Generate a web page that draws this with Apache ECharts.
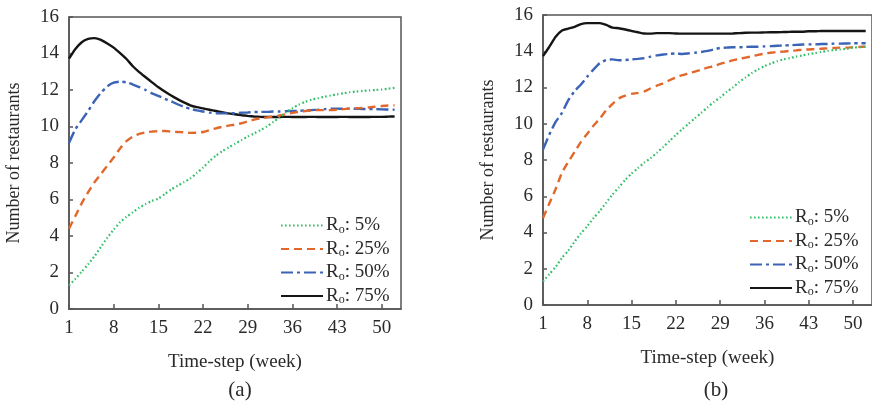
<!DOCTYPE html>
<html><head><meta charset="utf-8">
<script src="https://cdn.jsdelivr.net/npm/echarts@6/dist/echarts.min.js"></script>
<style>html,body{margin:0;padding:0;background:#fff;overflow:hidden}#c{width:872px;height:403px}</style>
</head><body><div id="c"></div>
<script>
var weeks = [1,2,3,4,5,6,7,8,9,10,11,12,13,14,15,16,17,18,19,20,21,22,23,24,25,26,27,28,29,30,31,32,33,34,35,36,37,38,39,40,41,42,43,44,45,46,47,48,49,50,51,52,53];
var seriesNames = ['5%','25%','50%','75%'];
var panelLabels = ['(a)','(b)'];
var yTicks = [0,2,4,6,8,10,12,14,16];

var greenA = [1.30,1.65,2.05,2.45,2.90,3.40,3.90,4.35,4.75,5.05,5.30,5.55,5.75,5.92,6.05,6.30,6.55,6.75,6.95,7.15,7.45,7.75,8.10,8.40,8.65,8.85,9.05,9.25,9.45,9.62,9.80,10.00,10.25,10.50,10.78,11.00,11.20,11.35,11.47,11.55,11.63,11.70,11.76,11.82,11.88,11.92,11.95,11.98,12.00,12.03,12.07,12.12];
var orangeA = [4.40,5.10,5.80,6.40,6.95,7.40,7.85,8.30,8.80,9.20,9.45,9.60,9.68,9.72,9.75,9.75,9.72,9.70,9.68,9.65,9.66,9.70,9.80,9.90,9.98,10.05,10.10,10.18,10.28,10.38,10.45,10.50,10.55,10.60,10.68,10.75,10.80,10.85,10.88,10.90,10.90,10.90,10.92,10.95,10.98,11.00,11.02,11.05,11.08,11.12,11.15,11.16];
var blueA = [9.10,9.85,10.35,10.85,11.40,11.85,12.20,12.40,12.46,12.42,12.30,12.16,12.00,11.82,11.68,11.52,11.38,11.22,11.08,10.97,10.88,10.82,10.76,10.73,10.72,10.72,10.73,10.75,10.77,10.79,10.80,10.80,10.82,10.82,10.84,10.85,10.86,10.88,10.90,10.92,10.95,10.97,10.98,10.97,10.98,10.97,10.96,10.95,10.95,10.94,10.93,10.92];
var blackA = [13.72,14.25,14.62,14.80,14.84,14.75,14.55,14.32,14.02,13.70,13.30,12.98,12.70,12.42,12.15,11.92,11.70,11.50,11.32,11.16,11.06,10.99,10.92,10.85,10.78,10.72,10.67,10.62,10.58,10.55,10.53,10.52,10.52,10.52,10.53,10.52,10.52,10.52,10.53,10.52,10.52,10.52,10.52,10.53,10.52,10.52,10.52,10.52,10.53,10.53,10.54,10.55];

var greenB = [1.30,1.70,2.10,2.60,3.00,3.50,3.95,4.35,4.80,5.20,5.65,6.10,6.50,6.90,7.25,7.55,7.85,8.10,8.40,8.72,9.05,9.38,9.70,10.00,10.30,10.60,10.90,11.20,11.45,11.75,12.00,12.30,12.55,12.80,13.00,13.18,13.32,13.45,13.55,13.62,13.70,13.77,13.84,13.90,13.96,14.02,14.07,14.10,14.14,14.20,14.22,14.25];
var orangeB = [4.80,5.60,6.40,7.30,7.90,8.45,9.00,9.45,9.90,10.30,10.75,11.10,11.40,11.55,11.65,11.70,11.78,11.95,12.10,12.23,12.40,12.55,12.68,12.78,12.88,12.98,13.10,13.18,13.30,13.40,13.50,13.58,13.65,13.72,13.80,13.87,13.92,13.96,13.98,14.02,14.05,14.08,14.10,14.12,14.14,14.16,14.18,14.20,14.20,14.22,14.24,14.25];
var blueB = [8.58,9.40,10.10,10.60,11.30,11.80,12.17,12.60,13.00,13.35,13.52,13.55,13.50,13.52,13.55,13.58,13.62,13.70,13.77,13.82,13.85,13.88,13.85,13.88,13.92,13.96,14.02,14.10,14.18,14.20,14.22,14.22,14.24,14.25,14.25,14.27,14.28,14.30,14.32,14.33,14.35,14.37,14.38,14.38,14.40,14.40,14.42,14.42,14.43,14.44,14.44,14.44];
var blackB = [13.73,14.25,14.80,15.15,15.25,15.35,15.50,15.55,15.55,15.55,15.45,15.30,15.27,15.20,15.12,15.05,14.98,14.97,15.00,15.00,15.00,14.98,14.97,14.97,14.97,14.97,14.97,14.97,14.97,14.97,14.98,15.00,15.02,15.03,15.03,15.04,15.05,15.05,15.06,15.07,15.08,15.08,15.10,15.10,15.12,15.12,15.12,15.12,15.12,15.12,15.12,15.12];

var FONT = 'Liberation Serif';
var TXT = '#2a2a2a';
var styles = [
  {color:'#34c06a', width:2.2, type:[1.6,2.4]},
  {color:'#e2672b', width:2.4, type:[8,5]},
  {color:'#3b63b6', width:2.4, type:[12,4,3,4]},
  {color:'#151515', width:2.4, type:'solid'}
];
var panels = [[greenA,orangeA,blueA,blackA],[greenB,orangeB,blueB,blackB]];

var grids = [
  {left:69, right:471, top:17, bottom:94, show:true, borderColor:'#555', borderWidth:1.5},
  {left:543, right:-4, top:15, bottom:98, show:true, borderColor:'#555', borderWidth:1.5}
];
var xAxes = [], yAxes = [], series = [], legends = [], titles = [];
for (var p = 0; p < 2; p++) {
  xAxes.push({
    type:'category', gridIndex:p, data:weeks, boundaryGap:false,
    name:'Time-step (week)', nameLocation:'middle', nameGap:44,
    nameTextStyle:{fontFamily:FONT, fontSize:19, color:TXT},
    axisLine:{lineStyle:{color:'#555', width:1.5}},
    axisTick:{inside:true, length:5, interval:6, lineStyle:{color:'#555', width:1.5}},
    axisLabel:{interval:6, margin:10, fontFamily:FONT, fontSize:19, color:TXT},
    splitLine:{show:false}
  });
  yAxes.push({
    type:'value', gridIndex:p, min:0, max:16, interval:2,
    name:'Number of restaurants', nameLocation:'middle', nameGap:46, nameRotate:90,
    nameTextStyle:{fontFamily:FONT, fontSize:18, color:TXT},
    axisLine:{show:true, lineStyle:{color:'#555', width:1.5}},
    axisTick:{show:true, inside:true, length:4, lineStyle:{color:'#555', width:1.5}},
    axisLabel:{margin:10, fontFamily:FONT, fontSize:19, color:TXT},
    splitLine:{show:false}
  });
  for (var s = 0; s < 4; s++) {
    series.push({
      type:'line', name:seriesNames[s], xAxisIndex:p, yAxisIndex:p,
      data:panels[p][s], symbol:'none', showSymbol:false, smooth:0.2, silent:true,
      lineStyle:{color:styles[s].color, width:styles[s].width, type:styles[s].type},
      itemStyle:{color:styles[s].color},
      z: 2 + (3 - s)
    });
  }
  legends.push({
    data:seriesNames, orient:'vertical',
    left: p === 0 ? 275 : 744, top: p === 0 ? 211 : 203,
    itemWidth:42, itemHeight:12, itemGap:4,
    selectedMode:false,
    itemStyle:{opacity:0},
    formatter:function(n){ return '{r|R}{s|o}{r|: ' + n + '}'; },
    textStyle:{
      fontFamily:FONT, fontSize:19, color:TXT, padding:[0,0,0,-2],
      rich:{
        r:{fontFamily:FONT, fontSize:19, color:TXT, lineHeight:20},
        s:{fontFamily:FONT, fontSize:12, color:TXT, lineHeight:20, verticalAlign:'bottom', padding:[4,0,0,0]}
      }
    }
  });
  titles.push({
    text:panelLabels[p], left: p === 0 ? 235 : 711, top:375, textAlign:'center',
    textStyle:{fontFamily:FONT, fontSize:21, fontWeight:'normal', color:TXT}
  });
}

var chart = echarts.init(document.getElementById('c'), null, {renderer:'canvas'});
chart.setOption({
  animation:false,
  backgroundColor:'#fff',
  title:titles,
  grid:grids,
  xAxis:xAxes,
  yAxis:yAxes,
  legend:legends,
  series:series
});
</script>
</body></html>
